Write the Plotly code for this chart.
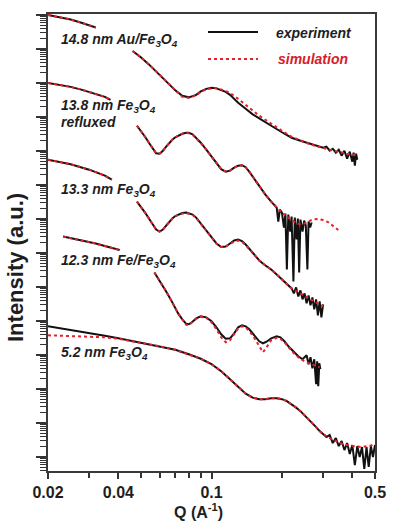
import plotly.graph_objects as go

# ---------------- data (Q in A^-1, intensities as log10 values, a.u.) ----------------
# 14.8 nm Au/Fe3O4
q_au_exp = [0.020, 0.022, 0.025, 0.028, 0.030, 0.032, None,
            0.046, 0.048, 0.050, 0.054, 0.058, 0.062, 0.066, 0.070, 0.075, 0.080, 0.086, 0.090,
            0.095, 0.100, 0.105, 0.110, 0.115, 0.120, 0.130, 0.140, 0.150, 0.160, 0.170, 0.180,
            0.200, 0.220, 0.240, 0.260, 0.280, 0.300, 0.310, 0.320, 0.330, 0.340, 0.350, 0.360,
            0.370, 0.380, 0.390, 0.400, 0.405, 0.410, 0.415, 0.420]
lg_au_exp = [0.000, -0.053, -0.132, -0.235, -0.293, -0.367, None,
             -1.056, -1.144, -1.247, -1.452, -1.658, -1.849, -2.039, -2.215, -2.377, -2.421, -2.347, -2.245,
             -2.171, -2.142, -2.157, -2.201, -2.259, -2.347, -2.582, -2.758, -2.920, -3.037, -3.140, -3.257,
             -3.448, -3.609, -3.697, -3.771, -3.844, -3.903, -3.873, -3.991, -3.932, -4.049, -3.961, -4.137,
             -3.991, -4.225, -4.020, -4.313, -4.049, -4.431, -4.079, -4.255]
q_au_sim = [0.020, 0.022, 0.025, 0.028, 0.030, 0.032, None,
            0.046, 0.050, 0.054, 0.058, 0.062, 0.066, 0.070, 0.075, 0.080, 0.086, 0.090, 0.095,
            0.100, 0.105, 0.110, 0.115, 0.120, 0.130, 0.140, 0.150, 0.160, 0.170, 0.180, 0.200,
            0.220, 0.240, 0.260, 0.280, 0.300, 0.340, 0.380, 0.420]
lg_au_sim = [0.000, -0.053, -0.132, -0.235, -0.293, -0.367, None,
             -1.056, -1.247, -1.452, -1.658, -1.849, -2.039, -2.215, -2.406, -2.435, -2.362, -2.259, -2.186,
             -2.157, -2.157, -2.186, -2.230, -2.289, -2.465, -2.641, -2.817, -2.963, -3.081, -3.198, -3.404,
             -3.580, -3.697, -3.785, -3.859, -3.917, -4.005, -4.079, -4.137]

# 13.8 nm Fe3O4 refluxed
q_rf_exp = [0.020, 0.022, 0.025, 0.028, 0.030, 0.032, 0.035, 0.037, None,
            0.048, 0.050, 0.052, 0.054, 0.056, 0.058, 0.060, 0.062, 0.064, 0.066, 0.068, 0.070,
            0.075, 0.078, 0.080, 0.083, 0.086, 0.090, 0.095, 0.100, 0.105, 0.110, 0.115, 0.120,
            0.125, 0.130, 0.135, 0.140, 0.145, 0.150, 0.160, 0.170, 0.180, 0.190, 0.193, 0.196,
            0.200, 0.204, 0.207, 0.210, 0.213, 0.217, 0.220, 0.224, 0.227, 0.231, 0.234, 0.237,
            0.240, 0.245, 0.249, 0.253, 0.257, 0.260, 0.264, 0.268]
lg_rf_exp = [-1.995, -2.039, -2.113, -2.201, -2.259, -2.318, -2.406, -2.494, None,
             -3.257, -3.404, -3.580, -3.756, -3.932, -4.064, -4.079, -3.991, -3.873, -3.756, -3.668, -3.595,
             -3.492, -3.463, -3.463, -3.506, -3.609, -3.756, -3.961, -4.167, -4.372, -4.533, -4.607, -4.577,
             -4.489, -4.431, -4.416, -4.475, -4.607, -4.754, -5.047, -5.282, -5.487, -5.663, -6.074, -5.722,
             -5.810, -6.250, -5.839, -7.482, -5.868, -6.367, -5.927, -7.835, -5.957, -6.602, -5.986, -7.570,
             -6.015, -6.367, -6.045, -6.191, -7.482, -6.074, -6.250, -6.103]
q_rf_sim = [0.020, 0.022, 0.025, 0.028, 0.030, 0.032, 0.035, 0.037, None,
            0.048, 0.050, 0.052, 0.054, 0.056, 0.058, 0.060, 0.062, 0.064, 0.066, 0.068, 0.070,
            0.075, 0.078, 0.080, 0.083, 0.086, 0.090, 0.095, 0.100, 0.105, 0.110, 0.115, 0.120,
            0.125, 0.130, 0.135, 0.140, 0.145, 0.150, 0.160, 0.170, 0.180, 0.190,
            0.200, 0.210, 0.220, 0.230, 0.240, 0.250, 0.260, 0.270, 0.285, 0.300, 0.315, 0.330,
            0.345, 0.355]
lg_rf_sim = [-1.995, -2.039, -2.113, -2.201, -2.259, -2.318, -2.406, -2.494, None,
             -3.257, -3.404, -3.580, -3.756, -3.932, -4.064, -4.079, -3.991, -3.873, -3.756, -3.668, -3.595,
             -3.492, -3.470, -3.478, -3.521, -3.624, -3.770, -3.961, -4.167, -4.372, -4.533, -4.607, -4.577,
             -4.489, -4.431, -4.416, -4.475, -4.607, -4.754, -5.047, -5.282, -5.487, -5.663,
             -5.810, -5.927, -6.030, -6.118, -6.162, -6.133, -6.074, -6.015, -6.001, -6.030, -6.089, -6.191,
             -6.309, -6.367]

# 13.3 nm Fe3O4
q_133_exp = [0.020, 0.025, 0.030, 0.035, 0.0375, None,
             0.048, 0.050, 0.052, 0.054, 0.056, 0.058, 0.060, 0.062, 0.064, 0.066, 0.068, 0.070,
             0.075, 0.078, 0.080, 0.083, 0.086, 0.090, 0.095, 0.100, 0.105, 0.110, 0.115, 0.120,
             0.125, 0.130, 0.135, 0.140, 0.150, 0.160, 0.170, 0.180, 0.190, 0.200, 0.210, 0.220,
             0.225, 0.230, 0.235, 0.240, 0.245, 0.250, 0.255, 0.260, 0.265, 0.270, 0.275, 0.280,
             0.285, 0.290, 0.295, 0.300]
lg_133_exp = [-4.255, -4.387, -4.548, -4.724, -4.842, None,
              -5.487, -5.634, -5.810, -5.986, -6.162, -6.309, -6.367, -6.309, -6.191, -6.074, -5.986, -5.913,
              -5.825, -5.810, -5.825, -5.868, -5.957, -6.133, -6.338, -6.543, -6.719, -6.822, -6.808, -6.719,
              -6.631, -6.602, -6.646, -6.749, -6.984, -7.218, -7.365, -7.482, -7.629, -7.776, -7.923, -8.040,
              -8.187, -8.011, -8.275, -8.099, -8.363, -8.187, -8.480, -8.245, -8.539, -8.304, -8.656, -8.363,
              -8.832, -8.421, -8.891, -8.509]
q_133_sim = [0.020, 0.025, 0.030, 0.035, 0.0375, None,
             0.048, 0.050, 0.052, 0.054, 0.056, 0.058, 0.060, 0.062, 0.064, 0.066, 0.068, 0.070,
             0.075, 0.078, 0.080, 0.083, 0.086, 0.090, 0.095, 0.100, 0.105, 0.110, 0.115, 0.120,
             0.125, 0.130, 0.135, 0.140, 0.150, 0.160, 0.170, 0.180, 0.190, 0.200, 0.210, 0.220,
             0.240, 0.260, 0.280, 0.300]
lg_133_sim = [-4.255, -4.387, -4.548, -4.724, -4.842, None,
              -5.487, -5.634, -5.810, -5.986, -6.162, -6.309, -6.367, -6.309, -6.191, -6.074, -5.986, -5.913,
              -5.840, -5.825, -5.840, -5.883, -5.972, -6.148, -6.338, -6.543, -6.719, -6.822, -6.808, -6.734,
              -6.660, -6.631, -6.675, -6.764, -6.984, -7.218, -7.365, -7.482, -7.629, -7.776, -7.923, -8.040,
              -8.187, -8.333, -8.451, -8.568]

# 12.3 nm Fe/Fe3O4
q_fe_exp = [0.0232, 0.025, 0.028, 0.030, 0.032, 0.035, 0.0405, None,
            0.057, 0.060, 0.064, 0.068, 0.072, 0.075, 0.078, 0.080, 0.083, 0.086, 0.090,
            0.095, 0.100, 0.105, 0.110, 0.115, 0.120, 0.125, 0.130, 0.135, 0.140,
            0.145, 0.150, 0.160, 0.166, 0.172, 0.180, 0.190, 0.197, 0.205, 0.215,
            0.225, 0.235, 0.245, 0.255, 0.260, 0.265, 0.270, 0.275, 0.280, 0.283, 0.286, 0.289, 0.292]
lg_fe_exp = [-6.514, -6.558, -6.631, -6.675, -6.719, -6.793, -6.910, None,
             -7.570, -7.805, -8.128, -8.451, -8.774, -8.950, -9.082, -9.096, -9.023, -8.920, -8.862,
             -8.891, -9.008, -9.184, -9.390, -9.522, -9.507, -9.360, -9.184, -9.125, -9.155,
             -9.243, -9.360, -9.595, -9.654, -9.609, -9.507, -9.449, -9.478, -9.595, -9.771,
             -9.918, -10.035, -10.123, -10.006, -10.270, -10.064, -10.387, -10.123, -10.857, -10.182, -10.915, -10.241, -10.416]
q_fe_sim = [0.0232, 0.025, 0.028, 0.030, 0.032, 0.035, 0.0405, None,
            0.057, 0.060, 0.064, 0.068, 0.072, 0.075, 0.078, 0.080, 0.083, 0.086, 0.090,
            0.095, 0.100, 0.105, 0.110, 0.115, 0.120, 0.125, 0.130, 0.135, 0.140,
            0.150, 0.160, 0.166, 0.172, 0.180, 0.190, 0.197, 0.205, 0.215, 0.225,
            0.235, 0.245, 0.260, 0.275, 0.290]
lg_fe_sim = [-6.514, -6.558, -6.631, -6.675, -6.719, -6.793, -6.910, None,
             -7.570, -7.805, -8.128, -8.451, -8.774, -8.950, -9.111, -9.125, -9.037, -8.935, -8.876,
             -8.906, -9.037, -9.243, -9.478, -9.624, -9.566, -9.390, -9.213, -9.155, -9.184,
             -9.419, -9.742, -9.918, -9.771, -9.566, -9.492, -9.522, -9.624, -9.800, -9.947,
             -10.064, -10.153, -10.241, -10.299, -10.358]

# 5.2 nm Fe3O4
q_52_exp = [0.020, 0.025, 0.030, 0.035, 0.040, 0.045, 0.050,
            0.060, 0.070, 0.080, 0.090, 0.100, 0.110, 0.120, 0.130, 0.140, 0.150,
            0.160, 0.170, 0.180, 0.190, 0.200, 0.210, 0.220, 0.230, 0.240, 0.250,
            0.260, 0.270, 0.280, 0.290, 0.300,
            0.310, 0.320, 0.330, 0.340, 0.350, 0.360, 0.370, 0.380, 0.390, 0.400,
            0.410, 0.420, 0.430, 0.440, 0.450, 0.460, 0.470, 0.480, 0.490, 0.500]
lg_52_exp = [-9.155, -9.258, -9.346, -9.434, -9.507, -9.580, -9.639,
             -9.742, -9.845, -9.977, -10.109, -10.270, -10.475, -10.710, -10.945, -11.136, -11.253,
             -11.297, -11.297, -11.268, -11.268, -11.297, -11.356, -11.444, -11.546, -11.649, -11.766,
             -11.884, -12.001, -12.118, -12.236, -12.324,
             -12.412, -12.353, -12.588, -12.441, -12.676, -12.529, -12.793, -12.588, -12.911, -12.647,
             -13.234, -12.676, -12.999, -12.705, -13.351, -12.705, -13.292, -12.676, -12.999, -12.646]
q_52_sim = [0.020, 0.025, 0.030, 0.035, 0.040, 0.045, 0.050,
            0.060, 0.070, 0.080, 0.090, 0.100, 0.110, 0.120, 0.130, 0.140, 0.150,
            0.160, 0.170, 0.180, 0.190, 0.200, 0.210, 0.220, 0.230, 0.240, 0.250,
            0.260, 0.270, 0.280, 0.290, 0.300,
            0.320, 0.340, 0.360, 0.380, 0.400, 0.420, 0.440, 0.460, 0.480, 0.500]
lg_52_sim = [-9.419, -9.434, -9.448, -9.478, -9.522, -9.580, -9.639,
             -9.742, -9.845, -9.977, -10.109, -10.270, -10.475, -10.710, -10.945, -11.136, -11.253,
             -11.297, -11.297, -11.268, -11.268, -11.297, -11.356, -11.444, -11.546, -11.649, -11.766,
             -11.884, -12.001, -12.118, -12.236, -12.324,
             -12.441, -12.529, -12.603, -12.647, -12.676, -12.691, -12.705, -12.691, -12.661, -12.617]

# labels
sample_labels = ["14.8 nm Au/Fe<sub>3</sub>O<sub>4</sub>",
                 "13.8 nm Fe<sub>3</sub>O<sub>4</sub>",
                 "refluxed",
                 "13.3 nm Fe<sub>3</sub>O<sub>4</sub>",
                 "12.3 nm Fe/Fe<sub>3</sub>O<sub>4</sub>",
                 "5.2 nm Fe<sub>3</sub>O<sub>4</sub>"]
x_tickvals = [0.02, 0.04, 0.1, 0.5]
x_ticktext = ["0.02", "0.04", "0.1", "0.5"]
x_minor_tickvals = [0.03, 0.05, 0.06, 0.07, 0.08, 0.09, 0.2, 0.3, 0.4]

# ---------------- figure ----------------
def lin(vals):
    return [None if v is None else 10 ** v for v in vals]

curves = [
    (q_au_exp, lg_au_exp, q_au_sim, lg_au_sim),
    (q_rf_exp, lg_rf_exp, q_rf_sim, lg_rf_sim),
    (q_133_exp, lg_133_exp, q_133_sim, lg_133_sim),
    (q_fe_exp, lg_fe_exp, q_fe_sim, lg_fe_sim),
    (q_52_exp, lg_52_exp, q_52_sim, lg_52_sim),
]

fig = go.Figure()
for qe, le, qs, ls in curves:
    fig.add_trace(go.Scatter(x=qe, y=lin(le), mode="lines", connectgaps=False,
                             line=dict(color="#111111", width=2), showlegend=False))
for qe, le, qs, ls in curves:
    fig.add_trace(go.Scatter(x=qs, y=lin(ls), mode="lines", connectgaps=False,
                             line=dict(color="#e3232c", width=2, dash="dot"), showlegend=False))

FONT = "Liberation Sans, Arial, sans-serif"
TXT = "#1e1e1e"

# plot area in pixels: x 48..375, y 14..471
def px(x):
    return (x - 48) / 327.0

def py(y):
    return (471 - y) / 457.0

label_y = [40, 106, 122, 190, 261, 353]
annotations = []
for t, yy in zip(sample_labels, label_y):
    annotations.append(dict(text="<b><i>" + t + "</i></b>", x=px(59), y=py(yy), xref="paper", yref="paper",
                            xanchor="left", yanchor="middle", showarrow=False,
                            font=dict(family=FONT, size=14, color=TXT)))
annotations.append(dict(text="<b><i>experiment</i></b>", x=px(274), y=py(33), xref="paper", yref="paper",
                        xanchor="left", yanchor="middle", showarrow=False,
                        font=dict(family=FONT, size=14, color=TXT)))
annotations.append(dict(text="<b><i>simulation</i></b>", x=px(276), y=py(59), xref="paper", yref="paper",
                        xanchor="left", yanchor="middle", showarrow=False,
                        font=dict(family=FONT, size=14, color="#d4202a")))
annotations.append(dict(text="<b>Intensity (a.u.)</b>", x=px(15), y=py(268), xref="paper", yref="paper",
                        xanchor="center", yanchor="middle", textangle=-90, showarrow=False,
                        font=dict(family=FONT, size=22, color=TXT)))
annotations.append(dict(text="<b>Q (A<sup>-1</sup>)</b>", x=px(198), y=py(511), xref="paper", yref="paper",
                        xanchor="center", yanchor="middle", showarrow=False,
                        font=dict(family=FONT, size=16, color=TXT)))

shapes = [
    dict(type="line", xref="paper", yref="paper", x0=px(208), x1=px(258), y0=py(32), y1=py(32),
         line=dict(color="#111111", width=2)),
    dict(type="line", xref="paper", yref="paper", x0=px(208), x1=px(258), y0=py(59), y1=py(59),
         line=dict(color="#e3232c", width=2, dash="dot")),
]

minor_y = [k * 10.0 ** n for n in range(-14, 1) for k in range(2, 10)]

fig.update_layout(
    width=397, height=521,
    margin=dict(l=48, r=22, t=14, b=50),
    paper_bgcolor="white", plot_bgcolor="white",
    showlegend=False,
    annotations=annotations, shapes=shapes,
    xaxis=dict(type="log", range=[-1.69897, -0.30103],
               tickvals=x_tickvals, ticktext=x_ticktext,
               ticks="outside", ticklen=6, tickwidth=1.5, tickcolor="#333333",
               tickfont=dict(family=FONT, size=16, color=TXT, weight="bold"),
               minor=dict(tickvals=x_minor_tickvals, ticks="outside", ticklen=5, tickwidth=1.5,
                          tickcolor="#333333", showgrid=False),
               showline=True, linewidth=2, linecolor="#3a3a3a", mirror=True,
               showgrid=False, zeroline=False),
    yaxis=dict(type="log", range=[-13.41, 0.03],
               dtick=1, tick0=0, ticks="outside", ticklen=10, tickwidth=1.5, tickcolor="#333333",
               showticklabels=False,
               minor=dict(tickvals=minor_y, ticks="outside", ticklen=6, tickwidth=1, tickcolor="#333333",
                          showgrid=False),
               showline=True, linewidth=2, linecolor="#3a3a3a", mirror=True,
               showgrid=False, zeroline=False),
)

fig.write_html("out.html")
